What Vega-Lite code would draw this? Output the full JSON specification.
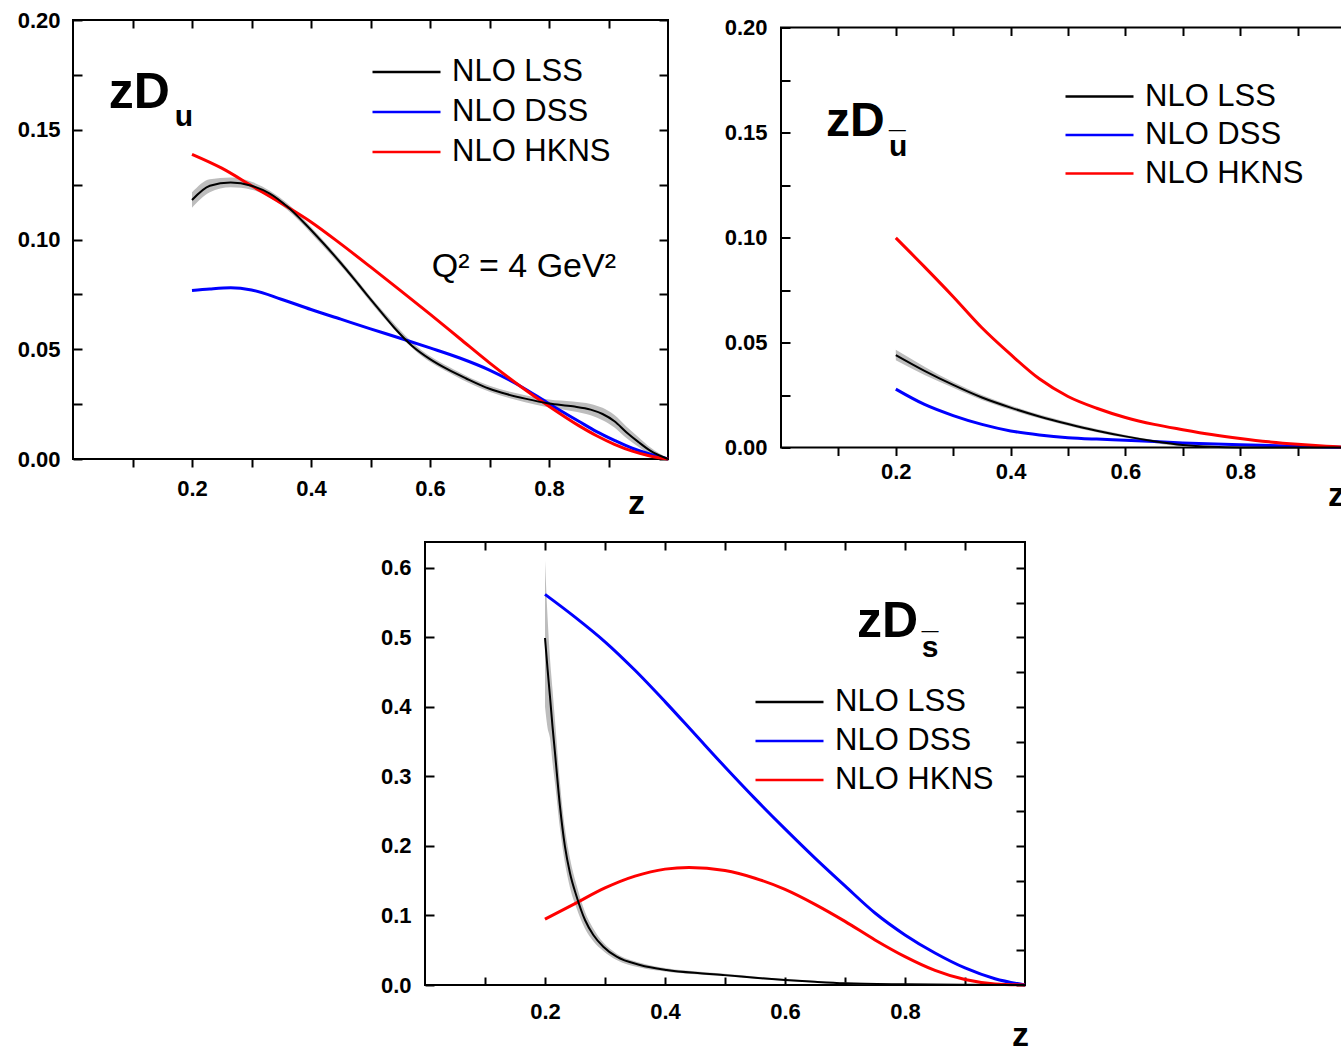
{
  "$schema": "https://vega.github.io/schema/vega-lite/v6.json",
  "background": "white",
  "padding": {"left": 16, "top": 8, "right": 0, "bottom": 0},
  "datasets": {
    "u": [
      {"model": "NLO LSS", "z": 0.2, "v": 0.118}, {"model": "NLO LSS", "z": 0.23, "v": 0.1245}, {"model": "NLO LSS", "z": 0.265, "v": 0.126}, {"model": "NLO LSS", "z": 0.3, "v": 0.1245}, {"model": "NLO LSS", "z": 0.33, "v": 0.121}, {"model": "NLO LSS", "z": 0.36, "v": 0.115}, {"model": "NLO LSS", "z": 0.39, "v": 0.1072}, {"model": "NLO LSS", "z": 0.42, "v": 0.0985}, {"model": "NLO LSS", "z": 0.45, "v": 0.0893}, {"model": "NLO LSS", "z": 0.48, "v": 0.0795}, {"model": "NLO LSS", "z": 0.51, "v": 0.0695}, {"model": "NLO LSS", "z": 0.54, "v": 0.0598}, {"model": "NLO LSS", "z": 0.57, "v": 0.0515}, {"model": "NLO LSS", "z": 0.6, "v": 0.0455}, {"model": "NLO LSS", "z": 0.63, "v": 0.0408}, {"model": "NLO LSS", "z": 0.66, "v": 0.0368}, {"model": "NLO LSS", "z": 0.7, "v": 0.032}, {"model": "NLO LSS", "z": 0.73, "v": 0.0295}, {"model": "NLO LSS", "z": 0.76, "v": 0.0275}, {"model": "NLO LSS", "z": 0.8, "v": 0.0253}, {"model": "NLO LSS", "z": 0.84, "v": 0.024}, {"model": "NLO LSS", "z": 0.87, "v": 0.0225}, {"model": "NLO LSS", "z": 0.89, "v": 0.0205}, {"model": "NLO LSS", "z": 0.91, "v": 0.0172}, {"model": "NLO LSS", "z": 0.93, "v": 0.0122}, {"model": "NLO LSS", "z": 0.95, "v": 0.0078}, {"model": "NLO LSS", "z": 0.97, "v": 0.0038}, {"model": "NLO LSS", "z": 1.0, "v": 0.0},
      {"model": "NLO DSS", "z": 0.2, "v": 0.0768}, {"model": "NLO DSS", "z": 0.23, "v": 0.0775}, {"model": "NLO DSS", "z": 0.265, "v": 0.078}, {"model": "NLO DSS", "z": 0.3, "v": 0.077}, {"model": "NLO DSS", "z": 0.35, "v": 0.0728}, {"model": "NLO DSS", "z": 0.4, "v": 0.0681}, {"model": "NLO DSS", "z": 0.45, "v": 0.0637}, {"model": "NLO DSS", "z": 0.5, "v": 0.0593}, {"model": "NLO DSS", "z": 0.55, "v": 0.055}, {"model": "NLO DSS", "z": 0.6, "v": 0.0506}, {"model": "NLO DSS", "z": 0.65, "v": 0.046}, {"model": "NLO DSS", "z": 0.7, "v": 0.0405}, {"model": "NLO DSS", "z": 0.75, "v": 0.0335}, {"model": "NLO DSS", "z": 0.8, "v": 0.0252}, {"model": "NLO DSS", "z": 0.85, "v": 0.0172}, {"model": "NLO DSS", "z": 0.88, "v": 0.0125}, {"model": "NLO DSS", "z": 0.91, "v": 0.0085}, {"model": "NLO DSS", "z": 0.94, "v": 0.0049}, {"model": "NLO DSS", "z": 0.97, "v": 0.0022}, {"model": "NLO DSS", "z": 1.0, "v": 0.0},
      {"model": "NLO HKNS", "z": 0.2, "v": 0.1388}, {"model": "NLO HKNS", "z": 0.25, "v": 0.1325}, {"model": "NLO HKNS", "z": 0.3, "v": 0.1245}, {"model": "NLO HKNS", "z": 0.35, "v": 0.1165}, {"model": "NLO HKNS", "z": 0.4, "v": 0.108}, {"model": "NLO HKNS", "z": 0.45, "v": 0.098}, {"model": "NLO HKNS", "z": 0.5, "v": 0.0875}, {"model": "NLO HKNS", "z": 0.55, "v": 0.0768}, {"model": "NLO HKNS", "z": 0.6, "v": 0.066}, {"model": "NLO HKNS", "z": 0.65, "v": 0.0549}, {"model": "NLO HKNS", "z": 0.7, "v": 0.0438}, {"model": "NLO HKNS", "z": 0.75, "v": 0.0335}, {"model": "NLO HKNS", "z": 0.8, "v": 0.024}, {"model": "NLO HKNS", "z": 0.85, "v": 0.0152}, {"model": "NLO HKNS", "z": 0.88, "v": 0.0106}, {"model": "NLO HKNS", "z": 0.91, "v": 0.0067}, {"model": "NLO HKNS", "z": 0.94, "v": 0.0036}, {"model": "NLO HKNS", "z": 0.97, "v": 0.0014}, {"model": "NLO HKNS", "z": 1.0, "v": 0.0}
    ],
    "u_band": [
      {"z": 0.2, "lo": 0.1145, "hi": 0.1215}, {"z": 0.23, "lo": 0.1215, "hi": 0.1275}, {"z": 0.265, "lo": 0.1238, "hi": 0.1282}, {"z": 0.3, "lo": 0.1227, "hi": 0.1263}, {"z": 0.36, "lo": 0.1135, "hi": 0.1165}, {"z": 0.4, "lo": 0.1029, "hi": 0.1057}, {"z": 0.46, "lo": 0.0848, "hi": 0.0874}, {"z": 0.52, "lo": 0.065, "hi": 0.0676}, {"z": 0.58, "lo": 0.0482, "hi": 0.0508}, {"z": 0.64, "lo": 0.0382, "hi": 0.0408}, {"z": 0.7, "lo": 0.0306, "hi": 0.0334}, {"z": 0.76, "lo": 0.0259, "hi": 0.0291}, {"z": 0.8, "lo": 0.0235, "hi": 0.0271}, {"z": 0.84, "lo": 0.0218, "hi": 0.0262}, {"z": 0.87, "lo": 0.0199, "hi": 0.0251}, {"z": 0.89, "lo": 0.0177, "hi": 0.0233}, {"z": 0.91, "lo": 0.0144, "hi": 0.02}, {"z": 0.93, "lo": 0.0096, "hi": 0.0148}, {"z": 0.95, "lo": 0.0056, "hi": 0.01}, {"z": 0.97, "lo": 0.0023, "hi": 0.0053}, {"z": 1.0, "lo": 0.0, "hi": 0.0004}
    ],
    "ub": [
      {"model": "NLO LSS", "z": 0.2, "v": 0.044}, {"model": "NLO LSS", "z": 0.25, "v": 0.0365}, {"model": "NLO LSS", "z": 0.3, "v": 0.0298}, {"model": "NLO LSS", "z": 0.35, "v": 0.0238}, {"model": "NLO LSS", "z": 0.4, "v": 0.019}, {"model": "NLO LSS", "z": 0.45, "v": 0.0148}, {"model": "NLO LSS", "z": 0.5, "v": 0.0112}, {"model": "NLO LSS", "z": 0.55, "v": 0.008}, {"model": "NLO LSS", "z": 0.6, "v": 0.0053}, {"model": "NLO LSS", "z": 0.65, "v": 0.003}, {"model": "NLO LSS", "z": 0.7, "v": 0.0012}, {"model": "NLO LSS", "z": 0.75, "v": 0.0003}, {"model": "NLO LSS", "z": 0.8, "v": 0.0}, {"model": "NLO LSS", "z": 0.9, "v": 0.0}, {"model": "NLO LSS", "z": 1.0, "v": 0.0},
      {"model": "NLO DSS", "z": 0.2, "v": 0.0278}, {"model": "NLO DSS", "z": 0.25, "v": 0.0205}, {"model": "NLO DSS", "z": 0.3, "v": 0.0152}, {"model": "NLO DSS", "z": 0.35, "v": 0.011}, {"model": "NLO DSS", "z": 0.4, "v": 0.0079}, {"model": "NLO DSS", "z": 0.45, "v": 0.006}, {"model": "NLO DSS", "z": 0.5, "v": 0.0047}, {"model": "NLO DSS", "z": 0.55, "v": 0.004}, {"model": "NLO DSS", "z": 0.6, "v": 0.0035}, {"model": "NLO DSS", "z": 0.7, "v": 0.0022}, {"model": "NLO DSS", "z": 0.8, "v": 0.0013}, {"model": "NLO DSS", "z": 0.9, "v": 0.0006}, {"model": "NLO DSS", "z": 1.0, "v": 0.0},
      {"model": "NLO HKNS", "z": 0.2, "v": 0.0998}, {"model": "NLO HKNS", "z": 0.25, "v": 0.086}, {"model": "NLO HKNS", "z": 0.3, "v": 0.0718}, {"model": "NLO HKNS", "z": 0.35, "v": 0.057}, {"model": "NLO HKNS", "z": 0.4, "v": 0.0443}, {"model": "NLO HKNS", "z": 0.45, "v": 0.0327}, {"model": "NLO HKNS", "z": 0.5, "v": 0.0243}, {"model": "NLO HKNS", "z": 0.55, "v": 0.0187}, {"model": "NLO HKNS", "z": 0.6, "v": 0.0143}, {"model": "NLO HKNS", "z": 0.65, "v": 0.011}, {"model": "NLO HKNS", "z": 0.7, "v": 0.0085}, {"model": "NLO HKNS", "z": 0.75, "v": 0.0062}, {"model": "NLO HKNS", "z": 0.8, "v": 0.0043}, {"model": "NLO HKNS", "z": 0.85, "v": 0.0027}, {"model": "NLO HKNS", "z": 0.9, "v": 0.0015}, {"model": "NLO HKNS", "z": 0.95, "v": 0.0006}, {"model": "NLO HKNS", "z": 1.0, "v": 0.0}
    ],
    "ub_band": [
      {"z": 0.2, "lo": 0.0415, "hi": 0.0465}, {"z": 0.25, "lo": 0.0345, "hi": 0.0385}, {"z": 0.3, "lo": 0.0284, "hi": 0.0312}, {"z": 0.35, "lo": 0.0226, "hi": 0.025}, {"z": 0.4, "lo": 0.018, "hi": 0.02}, {"z": 0.5, "lo": 0.0104, "hi": 0.012}, {"z": 0.6, "lo": 0.0046, "hi": 0.006}, {"z": 0.7, "lo": 0.0006, "hi": 0.0018}, {"z": 0.8, "lo": 0.0, "hi": 0.0005}, {"z": 1.0, "lo": 0.0, "hi": 0.0002}
    ],
    "s": [
      {"model": "NLO LSS", "z": 0.2, "v": 0.499}, {"model": "NLO LSS", "z": 0.2042, "v": 0.455}, {"model": "NLO LSS", "z": 0.2083, "v": 0.4148}, {"model": "NLO LSS", "z": 0.2125, "v": 0.372}, {"model": "NLO LSS", "z": 0.2167, "v": 0.3334}, {"model": "NLO LSS", "z": 0.225, "v": 0.2566}, {"model": "NLO LSS", "z": 0.2333, "v": 0.199}, {"model": "NLO LSS", "z": 0.2417, "v": 0.1607}, {"model": "NLO LSS", "z": 0.2528, "v": 0.127}, {"model": "NLO LSS", "z": 0.2667, "v": 0.0935}, {"model": "NLO LSS", "z": 0.2806, "v": 0.072}, {"model": "NLO LSS", "z": 0.2972, "v": 0.0551}, {"model": "NLO LSS", "z": 0.3194, "v": 0.0407}, {"model": "NLO LSS", "z": 0.3583, "v": 0.0288}, {"model": "NLO LSS", "z": 0.4028, "v": 0.0216}, {"model": "NLO LSS", "z": 0.4583, "v": 0.0168}, {"model": "NLO LSS", "z": 0.5, "v": 0.0142}, {"model": "NLO LSS", "z": 0.55, "v": 0.0105}, {"model": "NLO LSS", "z": 0.6, "v": 0.0072}, {"model": "NLO LSS", "z": 0.65, "v": 0.0045}, {"model": "NLO LSS", "z": 0.7, "v": 0.0024}, {"model": "NLO LSS", "z": 0.8, "v": 0.001}, {"model": "NLO LSS", "z": 0.9, "v": 0.0003}, {"model": "NLO LSS", "z": 1.0, "v": 0.0},
      {"model": "NLO DSS", "z": 0.2, "v": 0.5617}, {"model": "NLO DSS", "z": 0.25, "v": 0.529}, {"model": "NLO DSS", "z": 0.3, "v": 0.4935}, {"model": "NLO DSS", "z": 0.35, "v": 0.4525}, {"model": "NLO DSS", "z": 0.4, "v": 0.4075}, {"model": "NLO DSS", "z": 0.45, "v": 0.3605}, {"model": "NLO DSS", "z": 0.5, "v": 0.3135}, {"model": "NLO DSS", "z": 0.55, "v": 0.268}, {"model": "NLO DSS", "z": 0.6, "v": 0.2245}, {"model": "NLO DSS", "z": 0.65, "v": 0.1825}, {"model": "NLO DSS", "z": 0.7, "v": 0.1425}, {"model": "NLO DSS", "z": 0.75, "v": 0.1035}, {"model": "NLO DSS", "z": 0.8, "v": 0.072}, {"model": "NLO DSS", "z": 0.85, "v": 0.046}, {"model": "NLO DSS", "z": 0.9, "v": 0.0245}, {"model": "NLO DSS", "z": 0.95, "v": 0.009}, {"model": "NLO DSS", "z": 1.0, "v": 0.0},
      {"model": "NLO HKNS", "z": 0.2, "v": 0.0946}, {"model": "NLO HKNS", "z": 0.25, "v": 0.117}, {"model": "NLO HKNS", "z": 0.3, "v": 0.1395}, {"model": "NLO HKNS", "z": 0.35, "v": 0.1565}, {"model": "NLO HKNS", "z": 0.4, "v": 0.1666}, {"model": "NLO HKNS", "z": 0.44, "v": 0.169}, {"model": "NLO HKNS", "z": 0.5, "v": 0.1645}, {"model": "NLO HKNS", "z": 0.55, "v": 0.1535}, {"model": "NLO HKNS", "z": 0.6, "v": 0.1375}, {"model": "NLO HKNS", "z": 0.65, "v": 0.116}, {"model": "NLO HKNS", "z": 0.7, "v": 0.0915}, {"model": "NLO HKNS", "z": 0.75, "v": 0.0648}, {"model": "NLO HKNS", "z": 0.8, "v": 0.0408}, {"model": "NLO HKNS", "z": 0.85, "v": 0.021}, {"model": "NLO HKNS", "z": 0.9, "v": 0.0078}, {"model": "NLO HKNS", "z": 0.95, "v": 0.0015}, {"model": "NLO HKNS", "z": 1.0, "v": 0.0}
    ],
    "s_band": [
      {"z": 0.2, "lo": 0.4, "hi": 0.61}, {"z": 0.2042, "lo": 0.37, "hi": 0.53}, {"z": 0.2083, "lo": 0.355, "hi": 0.47}, {"z": 0.2125, "lo": 0.32, "hi": 0.425}, {"z": 0.2167, "lo": 0.29, "hi": 0.38}, {"z": 0.225, "lo": 0.225, "hi": 0.29}, {"z": 0.2333, "lo": 0.175, "hi": 0.225}, {"z": 0.2417, "lo": 0.14, "hi": 0.182}, {"z": 0.2528, "lo": 0.11, "hi": 0.143}, {"z": 0.2667, "lo": 0.081, "hi": 0.105}, {"z": 0.2806, "lo": 0.063, "hi": 0.081}, {"z": 0.2972, "lo": 0.049, "hi": 0.061}, {"z": 0.3194, "lo": 0.036, "hi": 0.045}, {"z": 0.3583, "lo": 0.025, "hi": 0.032}, {"z": 0.4028, "lo": 0.019, "hi": 0.024}, {"z": 0.4583, "lo": 0.015, "hi": 0.019}, {"z": 0.5, "lo": 0.0125, "hi": 0.016}, {"z": 0.6, "lo": 0.006, "hi": 0.0085}, {"z": 0.7, "lo": 0.0015, "hi": 0.0035}, {"z": 0.8, "lo": 0.0003, "hi": 0.0018}, {"z": 1.0, "lo": 0.0, "hi": 0.0005}
    ]
  },
  "vconcat": [
    {
      "hconcat": [
        {
          "width": 595, "height": 439,
          "resolve": {"scale": {"x": "independent", "y": "independent"}},
          "layer": [
            {
              "data": {"name": "u_band"},
              "mark": {"type": "area", "color": "#bdbdbd"},
              "encoding": {
                "x": {"field": "z", "type": "quantitative", "scale": {"domain": [0, 1], "nice": false},
                      "axis": {"orient": "top", "values": [0.1,0.2,0.3,0.4,0.5,0.6,0.7,0.8,0.9], "labels": false, "title": null, "tickSize": -8}},
                "y": {"field": "lo", "type": "quantitative", "scale": {"domain": [0, 0.2], "nice": false},
                      "axis": {"orient": "right", "values": [0,0.025,0.05,0.075,0.1,0.125,0.15,0.175,0.2], "labels": false, "title": null, "tickSize": -9}},
                "y2": {"field": "hi"}
              }
            },
            {
              "layer": [
                {
                  "data": {"name": "u"},
                  "transform": [{"filter": "datum.model != 'NLO LSS'"}],
                  "mark": {"type": "line", "strokeWidth": 3},
                  "encoding": {
                    "x": {"field": "z", "type": "quantitative", "scale": {"domain": [0, 1], "nice": false},
                          "axis": {"orient": "bottom", "values": [0.1,0.2,0.3,0.4,0.5,0.6,0.7,0.8,0.9], "labelExpr": "round(datum.value*10) % 2 == 0 ? format(datum.value, '.1f') : ''", "tickSize": 8, "labelPadding": 11,
                                   "title": "z", "titleX": 563, "titleY": 54, "titleAlign": "center", "titleBaseline": "alphabetic"}},
                    "y": {"field": "v", "type": "quantitative", "scale": {"domain": [0, 0.2], "nice": false},
                          "axis": {"orient": "left", "values": [0,0.025,0.05,0.075,0.1,0.125,0.15,0.175,0.2], "labelExpr": "round(datum.value*1000) % 50 == 0 ? format(datum.value, '.2f') : ''", "tickSize": -9, "labelPadding": 22, "title": null}},
                    "color": {"field": "model", "type": "nominal",
                              "scale": {"domain": ["NLO LSS", "NLO DSS", "NLO HKNS"], "range": ["#000000", "#0000ff", "#ff0000"]},
                              "legend": {"title": null, "orient": "none", "legendX": 298, "legendY": 36.5, "rowPadding": 8}}
                  }
                },
                {
                  "data": {"name": "u"},
                  "transform": [{"filter": "datum.model == 'NLO LSS'"}],
                  "mark": {"type": "line", "strokeWidth": 2},
                  "encoding": {
                    "x": {"field": "z", "type": "quantitative"},
                    "y": {"field": "v", "type": "quantitative"},
                    "color": {"field": "model", "type": "nominal"}
                  }
                },
                {
                  "data": {"values": [{"t": "zD"}]},
                  "mark": {"type": "text", "fontSize": 50, "fontWeight": "bold", "align": "left", "baseline": "alphabetic"},
                  "encoding": {"text": {"field": "t"}, "x": {"datum": 0.06}, "y": {"datum": 0.16}}
                },
                {
                  "data": {"values": [{"t": "u"}]},
                  "mark": {"type": "text", "fontSize": 30, "fontWeight": "bold", "align": "left", "baseline": "alphabetic"},
                  "encoding": {"text": {"field": "t"}, "x": {"datum": 0.171}, "y": {"datum": 0.1515}}
                },
                {
                  "data": {"values": [{"t": "Q² = 4 GeV²"}]},
                  "mark": {"type": "text", "fontSize": 34, "align": "left", "baseline": "alphabetic"},
                  "encoding": {"text": {"field": "t"}, "x": {"datum": 0.603}, "y": {"datum": 0.0829}}
                }
              ]
            }
          ]
        },
        {
          "width": 601, "height": 420,
          "resolve": {"scale": {"x": "independent", "y": "independent"}},
          "layer": [
            {
              "data": {"name": "ub_band"},
              "mark": {"type": "area", "color": "#bdbdbd"},
              "encoding": {
                "x": {"field": "z", "type": "quantitative", "scale": {"domain": [0, 1.047], "nice": false},
                      "axis": {"orient": "top", "values": [0.1,0.2,0.3,0.4,0.5,0.6,0.7,0.8,0.9,1.0], "labels": false, "title": null, "tickSize": -8}},
                "y": {"field": "lo", "type": "quantitative", "scale": {"domain": [0, 0.2], "nice": false},
                      "axis": {"orient": "right", "values": [0,0.025,0.05,0.075,0.1,0.125,0.15,0.175,0.2], "labels": false, "title": null, "tickSize": -9}},
                "y2": {"field": "hi"}
              }
            },
            {
              "layer": [
                {
                  "data": {"name": "ub"},
                  "transform": [{"filter": "datum.model != 'NLO LSS'"}],
                  "mark": {"type": "line", "strokeWidth": 3},
                  "encoding": {
                    "x": {"field": "z", "type": "quantitative", "scale": {"domain": [0, 1.047], "nice": false},
                          "axis": {"orient": "bottom", "values": [0.1,0.2,0.3,0.4,0.5,0.6,0.7,0.8,0.9,1.0], "labelExpr": "round(datum.value*10) % 2 == 0 && datum.value < 0.95 ? format(datum.value, '.1f') : ''", "tickSize": 8, "labelPadding": 6,
                                   "title": "z", "titleX": 555, "titleY": 58, "titleAlign": "center", "titleBaseline": "alphabetic"}},
                    "y": {"field": "v", "type": "quantitative", "scale": {"domain": [0, 0.2], "nice": false},
                          "axis": {"orient": "left", "values": [0,0.025,0.05,0.075,0.1,0.125,0.15,0.175,0.2], "labelExpr": "round(datum.value*1000) % 50 == 0 ? format(datum.value, '.2f') : ''", "tickSize": -9, "labelPadding": 23, "title": null}},
                    "color": {"field": "model", "type": "nominal",
                              "scale": {"domain": ["NLO LSS", "NLO DSS", "NLO HKNS"], "range": ["#000000", "#0000ff", "#ff0000"]},
                              "legend": {"title": null, "orient": "none", "legendX": 283, "legendY": 53.5, "rowPadding": 6.5}}
                  }
                },
                {
                  "data": {"name": "ub"},
                  "transform": [{"filter": "datum.model == 'NLO LSS'"}],
                  "mark": {"type": "line", "strokeWidth": 2},
                  "encoding": {
                    "x": {"field": "z", "type": "quantitative"},
                    "y": {"field": "v", "type": "quantitative"},
                    "color": {"field": "model", "type": "nominal"}
                  }
                },
                {
                  "data": {"values": [{"t": "zD"}]},
                  "mark": {"type": "text", "fontSize": 48, "fontWeight": "bold", "align": "left", "baseline": "alphabetic"},
                  "encoding": {"text": {"field": "t"}, "x": {"datum": 0.0785}, "y": {"datum": 0.1481}}
                },
                {
                  "data": {"values": [{"t": "u"}]},
                  "mark": {"type": "text", "fontSize": 30, "fontWeight": "bold", "align": "left", "baseline": "alphabetic"},
                  "encoding": {"text": {"field": "t"}, "x": {"datum": 0.1883}, "y": {"datum": 0.139}}
                },
                {
                  "data": {"values": [{"t": "¯"}]},
                  "mark": {"type": "text", "fontSize": 30, "fontWeight": "bold", "align": "left", "baseline": "alphabetic", "dy": -4},
                  "encoding": {"text": {"field": "t"}, "x": {"datum": 0.1883}, "y": {"datum": 0.139}}
                }
              ]
            }
          ]
        }
      ],
      "spacing": 48,
      "center": true,
      "resolve": {"scale": {"color": "independent"}, "legend": {"color": "independent"}}
    },
    {
      "width": 600, "height": 443,
      "resolve": {"scale": {"x": "independent", "y": "independent"}},
      "layer": [
        {
          "data": {"name": "s_band"},
          "mark": {"type": "area", "color": "#bdbdbd"},
          "encoding": {
            "x": {"field": "z", "type": "quantitative", "scale": {"domain": [0, 1], "nice": false},
                  "axis": {"orient": "top", "values": [0.1,0.2,0.3,0.4,0.5,0.6,0.7,0.8,0.9], "labels": false, "title": null, "tickSize": -8}},
            "y": {"field": "lo", "type": "quantitative", "scale": {"domain": [0, 0.637], "nice": false},
                  "axis": {"orient": "right", "values": [0,0.05,0.1,0.15,0.2,0.25,0.3,0.35,0.4,0.45,0.5,0.55,0.6], "labels": false, "title": null, "tickSize": -9}},
            "y2": {"field": "hi"}
          }
        },
        {
          "layer": [
            {
              "data": {"name": "s"},
              "transform": [{"filter": "datum.model != 'NLO LSS'"}],
              "mark": {"type": "line", "strokeWidth": 3},
              "encoding": {
                "x": {"field": "z", "type": "quantitative", "scale": {"domain": [0, 1], "nice": false},
                      "axis": {"orient": "bottom", "values": [0.1,0.2,0.3,0.4,0.5,0.6,0.7,0.8,0.9], "labelExpr": "round(datum.value*10) % 2 == 0 ? format(datum.value, '.1f') : ''", "tickSize": -8, "labelPadding": 24,
                               "title": "z", "titleX": 595, "titleY": 60, "titleAlign": "center", "titleBaseline": "alphabetic"}},
                "y": {"field": "v", "type": "quantitative", "scale": {"domain": [0, 0.637], "nice": false},
                      "axis": {"orient": "left", "values": [0,0.05,0.1,0.15,0.2,0.25,0.3,0.35,0.4,0.45,0.5,0.55,0.6], "labelExpr": "round(datum.value*100) % 10 == 0 ? format(datum.value, '.1f') : ''", "tickSize": -9, "labelPadding": 23, "title": null}},
                "color": {"field": "model", "type": "nominal",
                          "scale": {"domain": ["NLO LSS", "NLO DSS", "NLO HKNS"], "range": ["#000000", "#0000ff", "#ff0000"]},
                          "legend": {"title": null, "orient": "none", "legendX": 329, "legendY": 144.5, "rowPadding": 7}}
              }
            },
            {
              "data": {"name": "s"},
              "transform": [{"filter": "datum.model == 'NLO LSS'"}],
              "mark": {"type": "line", "strokeWidth": 2},
              "encoding": {
                "x": {"field": "z", "type": "quantitative"},
                "y": {"field": "v", "type": "quantitative"},
                "color": {"field": "model", "type": "nominal"}
              }
            },
            {
              "data": {"values": [{"t": "zD"}]},
              "mark": {"type": "text", "fontSize": 50, "fontWeight": "bold", "align": "left", "baseline": "alphabetic"},
              "encoding": {"text": {"field": "t"}, "x": {"datum": 0.72}, "y": {"datum": 0.5007}}
            },
            {
              "data": {"values": [{"t": "s"}]},
              "mark": {"type": "text", "fontSize": 30, "fontWeight": "bold", "align": "left", "baseline": "alphabetic"},
              "encoding": {"text": {"field": "t"}, "x": {"datum": 0.828}, "y": {"datum": 0.472}}
            },
            {
              "data": {"values": [{"t": "¯"}]},
              "mark": {"type": "text", "fontSize": 30, "fontWeight": "bold", "align": "left", "baseline": "alphabetic", "dy": -4},
              "encoding": {"text": {"field": "t"}, "x": {"datum": 0.828}, "y": {"datum": 0.472}}
            }
          ]
        }
      ]
    }
  ],
  "spacing": 19,
  "center": true,
  "resolve": {"scale": {"color": "independent"}, "legend": {"color": "independent"}},
  "config": {
    "view": {"stroke": "#000000", "strokeWidth": 2},
    "axis": {"domain": false, "grid": false, "ticks": true, "tickColor": "#000000", "tickWidth": 2,
             "labelFont": "Liberation Sans", "labelFontWeight": "bold", "labelFontSize": 22, "labelColor": "#000000",
             "labelOverlap": false, "labelFlush": false, "labelBound": false,
             "titleFont": "Liberation Sans", "titleFontWeight": "bold", "titleFontSize": 34, "titleColor": "#000000"},
    "legend": {"labelFont": "Liberation Sans", "labelFontSize": 31, "labelColor": "#000000", "symbolType": "stroke",
               "symbolSize": 4624, "symbolStrokeWidth": 2.5, "clipHeight": 31, "symbolOffset": 0, "labelOffset": 10, "padding": 0},
    "text": {"font": "Liberation Sans", "color": "#000000"},
    "line": {"interpolate": "monotone"},
    "area": {"interpolate": "monotone"}
  }
}
